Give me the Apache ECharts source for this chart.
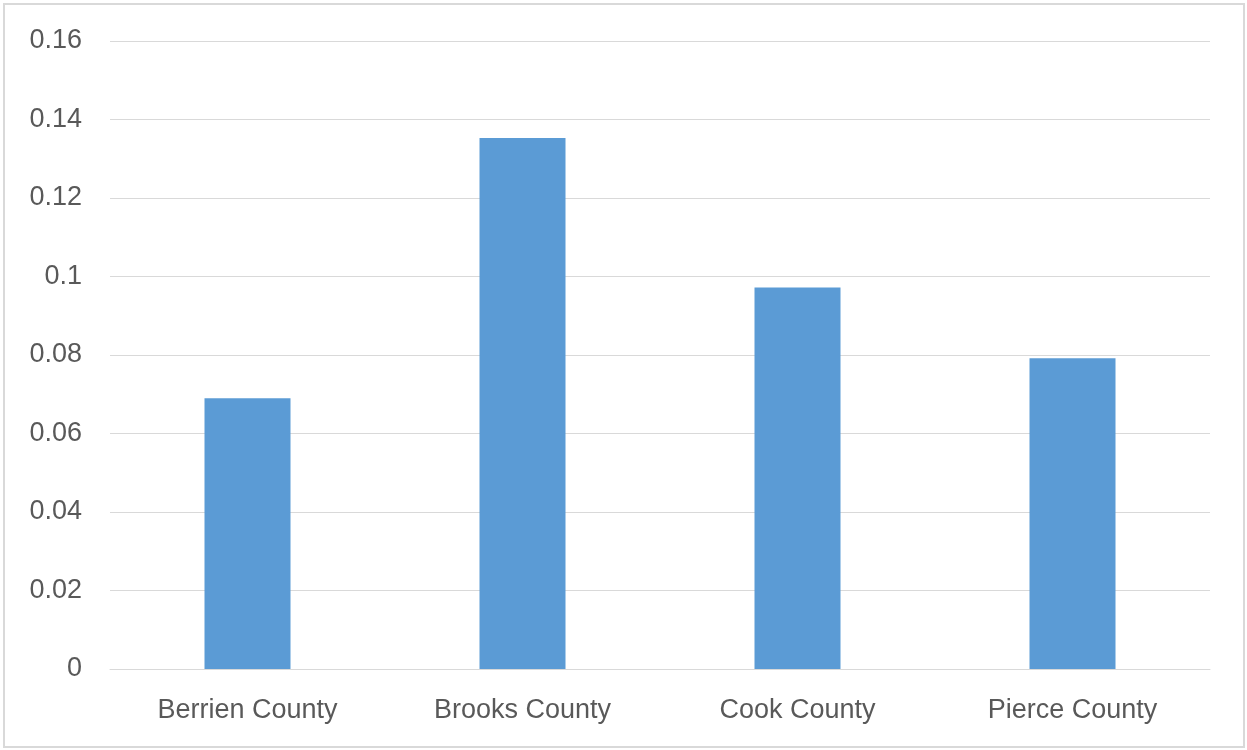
<!DOCTYPE html>
<html>
<head>
<meta charset="utf-8">
<script src="https://cdn.jsdelivr.net/npm/echarts@6/dist/echarts.min.js"></script>
<style>
html,body{margin:0;padding:0;background:#fff;}
#chart{width:1247px;height:750px;}
</style>
</head>
<body>
<div id="chart"></div>
<script>
var categories = ['Berrien County', 'Brooks County', 'Cook County', 'Pierce County'];
var values = [0.069, 0.1353, 0.0972, 0.0792];
var yTicks = { min: 0, max: 0.16, interval: 0.02 };

var chart = echarts.init(document.getElementById('chart'), null, { renderer: 'canvas' });
chart.setOption({
  animation: false,
  backgroundColor: '#ffffff',
  graphic: [{
    type: 'rect',
    shape: { x: 4, y: 4, width: 1240, height: 743 },
    style: { fill: 'none', stroke: '#d9d9d9', lineWidth: 2 },
    silent: true
  }],
  grid: { left: 110, right: 37, top: 41, bottom: 81, containLabel: false },
  xAxis: {
    type: 'category',
    data: categories,
    axisLine: { show: true, lineStyle: { color: '#d9d9d9', width: 1 } },
    axisTick: { show: false },
    axisLabel: { color: '#595959', fontFamily: 'Liberation Sans', fontSize: 27, margin: 28 },
    splitLine: { show: false }
  },
  yAxis: {
    type: 'value',
    min: yTicks.min,
    max: yTicks.max,
    interval: yTicks.interval,
    axisLine: { show: false },
    axisTick: { show: false },
    axisLabel: {
      color: '#595959', fontFamily: 'Liberation Sans', fontSize: 27, margin: 28,
      padding: [3, 0, 0, 0],
      formatter: function (v) { return String(parseFloat(v.toFixed(4))); }
    },
    splitLine: { show: true, lineStyle: { color: '#d9d9d9', width: 1 } }
  },
  series: [{
    type: 'bar',
    data: values,
    barWidth: 86,
    itemStyle: { color: '#5b9bd5' }
  }]
});
</script>
</body>
</html>
